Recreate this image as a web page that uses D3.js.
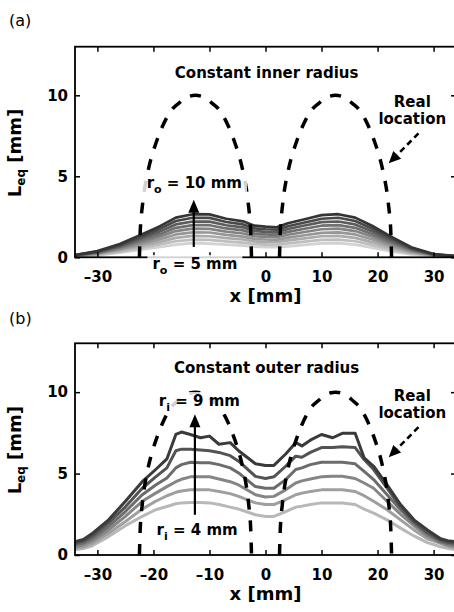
<!DOCTYPE html>
<html>
<head>
<meta charset="utf-8">
<script src="https://cdn.jsdelivr.net/npm/d3@7"></script>
<style>
  body { margin: 0; background: #fff; }
  svg { display: block; font-family: "DejaVu Sans", sans-serif; }
</style>
</head>
<body>
<div id="chart"></div>
<script>
// 1: DATA
const xTicks = [-30, -20, -10, 0, 10, 20, 30];
const xTickLabelsA = [-30, 0, 10, 20, 30];   // -20 / -10 hidden behind the r_o label in (a)
const xTickLabelsB = [-30, -20, -10, 0, 10, 20, 30];
const yTicks = [0, 5, 10];

// panel (a): constant inner radius, r_o = 5 ... 10 mm (lightest to darkest)
const panelA_x = [-34, -30, -26, -22, -19, -16, -13, -10, -7, -4, -2, 0, 2, 4, 7, 10, 13, 16, 19, 22, 26, 30, 34];
const panelA_values = [
  [0.05, 0.12, 0.28, 0.48, 0.62, 0.78, 0.87, 0.85, 0.78, 0.72, 0.65, 0.62, 0.62, 0.68, 0.77, 0.86, 0.87, 0.78, 0.60, 0.40, 0.18, 0.07, 0.03],
  [0.06, 0.15, 0.35, 0.60, 0.78, 0.99, 1.09, 1.08, 0.98, 0.91, 0.81, 0.78, 0.77, 0.86, 0.97, 1.08, 1.09, 0.99, 0.77, 0.52, 0.24, 0.09, 0.04],
  [0.07, 0.19, 0.42, 0.72, 0.94, 1.20, 1.32, 1.30, 1.18, 1.10, 0.98, 0.94, 0.93, 1.04, 1.17, 1.30, 1.32, 1.20, 0.94, 0.64, 0.29, 0.10, 0.04],
  [0.08, 0.22, 0.48, 0.83, 1.10, 1.41, 1.54, 1.53, 1.38, 1.28, 1.14, 1.10, 1.08, 1.21, 1.36, 1.51, 1.54, 1.41, 1.11, 0.76, 0.35, 0.12, 0.05],
  [0.10, 0.25, 0.55, 0.95, 1.26, 1.62, 1.77, 1.75, 1.58, 1.47, 1.30, 1.26, 1.24, 1.39, 1.56, 1.73, 1.77, 1.62, 1.28, 0.88, 0.40, 0.14, 0.05],
  [0.11, 0.28, 0.62, 1.07, 1.41, 1.82, 1.99, 1.98, 1.78, 1.66, 1.46, 1.41, 1.39, 1.57, 1.76, 1.95, 1.99, 1.82, 1.44, 0.99, 0.46, 0.15, 0.06],
  [0.12, 0.32, 0.69, 1.19, 1.57, 2.03, 2.21, 2.20, 1.98, 1.85, 1.63, 1.57, 1.54, 1.75, 1.96, 2.17, 2.21, 2.03, 1.61, 1.11, 0.51, 0.17, 0.06],
  [0.13, 0.35, 0.75, 1.30, 1.73, 2.24, 2.44, 2.43, 2.18, 2.03, 1.79, 1.73, 1.70, 1.92, 2.15, 2.38, 2.44, 2.24, 1.78, 1.23, 0.57, 0.18, 0.07],
  [0.14, 0.38, 0.82, 1.42, 1.89, 2.45, 2.66, 2.65, 2.38, 2.22, 1.95, 1.89, 1.85, 2.10, 2.35, 2.60, 2.66, 2.45, 1.95, 1.35, 0.62, 0.20, 0.07]
];

// panel (b): constant outer radius, r_i = 4 ... 9 mm
const panelB_x = [-34, -32.5, -31, -28, -25, -22, -19.6, -17.6, -16, -15, -13.4, -11.6, -10, -8.3, -6.3, -4.8, -1.8, 0, 1.5, 3.6,
                  5.4, 6.5, 8, 10, 12, 13.7, 16, 17.6, 19.3, 21.7, 24.1, 26.5, 28.9, 31.25, 32.5, 34];
const panelB_values = [
  [0.32, 0.40, 0.55, 1.13, 1.80, 2.37, 2.78, 2.98, 3.15, 3.20, 3.23, 3.22, 3.20, 3.10, 2.94, 2.82, 2.47, 2.37, 2.37, 2.67, 2.94, 3.00, 3.10, 3.20, 3.20, 3.20, 3.10, 2.82, 2.57, 2.16, 1.65, 1.17, 0.76, 0.51, 0.42, 0.32],
  [0.42, 0.50, 0.70, 1.34, 2.06, 2.82, 3.30, 3.64, 3.85, 3.93, 4.00, 4.00, 4.00, 3.90, 3.77, 3.60, 3.20, 3.10, 3.10, 3.40, 3.70, 3.80, 3.90, 4.00, 4.00, 4.00, 3.90, 3.64, 3.30, 2.78, 2.16, 1.54, 1.00, 0.72, 0.55, 0.42],
  [0.52, 0.62, 0.85, 1.54, 2.37, 3.30, 3.80, 4.20, 4.50, 4.65, 4.80, 4.80, 4.80, 4.67, 4.50, 4.30, 3.70, 3.56, 3.60, 4.00, 4.42, 4.55, 4.67, 4.80, 4.83, 4.83, 4.70, 4.42, 4.10, 3.30, 2.50, 1.80, 1.17, 0.78, 0.62, 0.52],
  [0.62, 0.75, 1.00, 1.75, 2.67, 3.70, 4.30, 4.73, 5.35, 5.55, 5.70, 5.66, 5.66, 5.55, 5.35, 5.04, 4.20, 4.10, 4.10, 4.63, 5.25, 5.35, 5.55, 5.70, 5.70, 5.70, 5.60, 5.14, 4.63, 3.70, 2.78, 1.96, 1.30, 0.82, 0.70, 0.62],
  [0.72, 0.85, 1.15, 1.97, 2.96, 4.10, 4.80, 5.35, 6.40, 6.50, 6.50, 6.45, 6.40, 6.30, 6.10, 5.76, 4.83, 4.70, 4.80, 5.45, 6.07, 6.00, 6.30, 6.60, 6.60, 6.65, 6.60, 5.86, 5.25, 4.10, 2.94, 2.06, 1.38, 0.93, 0.78, 0.72],
  [0.82, 0.95, 1.30, 2.16, 3.30, 4.50, 5.25, 5.90, 7.40, 7.55, 7.40, 7.20, 7.30, 6.80, 6.90, 6.40, 5.60, 5.50, 5.50, 6.20, 6.90, 6.70, 7.05, 7.40, 7.20, 7.47, 7.47, 5.97, 5.45, 4.30, 3.10, 2.16, 1.54, 1.00, 0.88, 0.82]
];

// "real location": two half circles of radius 10 mm
const arcCenters = [-12.5, 12.5];
const arcDx = [-10, -9.8, -9.5, -9, -8, -7, -6, -5, -4, -3, -2, -1, 0, 1, 2, 3, 4, 5, 6, 7, 8, 9, 9.5, 9.8, 10];
const arcH  = [0, 2.0, 3.1, 4.4, 6.0, 7.1, 8.0, 8.7, 9.2, 9.5, 9.8, 9.95, 10, 9.95, 9.8, 9.5, 9.2, 8.7, 8.0, 7.1, 6.0, 4.4, 3.1, 2.0, 0];

// 2: SVG
const W = 454, H = 612;
const svg = d3.select("#chart").append("svg")
    .attr("width", W)
    .attr("height", H);

const fmtTick = d => d < 0 ? "\u2013" + Math.abs(d) : String(d);

function subText(sel, main, sub, rest, size, subSize, shift) {
    sel.append("tspan").text(main);
    sel.append("tspan").attr("font-size", subSize).attr("dy", shift).text(sub);
    sel.append("tspan").attr("dy", -shift).text(rest);
}

function drawPanel(p) {
    const x = d3.scaleLinear().domain([-34, 34]).range([75, 456]);
    const y = d3.scaleLinear().domain([0, 13]).range([p.bottom, p.top]);
    const g = svg.append("g");

    // panel letter
    svg.append("text")
        .attr("x", 9).attr("y", p.tagY)
        .attr("font-size", 16)
        .text(p.tag);

    // curves
    const color = d3.scaleLinear()
        .domain([0, p.values.length - 1])
        .range([p.light, p.dark]);
    const line = d3.line()
        .x(d => x(d[0]))
        .y(d => y(d[1]));
    g.selectAll(".curve")
        .data(p.values)
        .enter()
        .append("path")
        .attr("class", "curve")
        .attr("fill", "none")
        .attr("stroke", (d, i) => color(i))
        .attr("stroke-width", p.lineW)
        .attr("stroke-linejoin", "round")
        .attr("d", vals => line(vals.map((v, i) => [p.xs[i], v])));

    // dashed half circles
    const arcLine = d3.line()
        .x(d => x(d[0]))
        .y(d => y(d[1]))
        .curve(d3.curveCatmullRom);
    g.selectAll(".arc")
        .data(arcCenters)
        .enter()
        .append("path")
        .attr("fill", "none")
        .attr("stroke", "#000")
        .attr("stroke-width", 3.5)
        .attr("stroke-dasharray", "11,11")
        .attr("d", c => arcLine(arcDx.map((d, i) => [c + d, arcH[i]])));

    // axes (ticks inward)
    const axFont = a => a.attr("font-family", "DejaVu Sans, sans-serif")
        .attr("font-size", 15).attr("font-weight", "bold");
    g.append("g")
        .attr("transform", `translate(0,${p.bottom})`)
        .call(d3.axisBottom(x).tickValues(xTicks).tickSize(-5).tickSizeOuter(0).tickPadding(14)
            .tickFormat(d => p.tickLabels.includes(d) ? fmtTick(d) : ""))
        .call(axFont)
        .call(a => a.select(".domain").remove());
    g.append("g")
        .attr("transform", `translate(0,${p.top})`)
        .call(d3.axisTop(x).tickValues(xTicks).tickSize(-5).tickSizeOuter(0).tickFormat(""))
        .call(a => a.select(".domain").remove());
    g.append("g")
        .attr("transform", `translate(75,0)`)
        .call(d3.axisLeft(y).tickValues(yTicks).tickSize(-5).tickSizeOuter(0).tickPadding(7))
        .call(axFont)
        .call(a => a.select(".domain").remove());
    g.append("g")
        .attr("transform", `translate(456,0)`)
        .call(d3.axisRight(y).tickValues(yTicks).tickSize(-5).tickSizeOuter(0).tickFormat(""))
        .call(a => a.select(".domain").remove());
    g.selectAll(".tick line").attr("stroke-width", 1.5);
    g.append("rect")
        .attr("x", 75).attr("y", p.top)
        .attr("width", 456 - 75).attr("height", p.bottom - p.top)
        .attr("fill", "none").attr("stroke", "#000").attr("stroke-width", 1.8);

    // axis labels
    g.append("text")
        .attr("x", x(0)).attr("y", p.bottom + 45)
        .attr("text-anchor", "middle")
        .attr("font-size", 18).attr("font-weight", "bold")
        .text("x [mm]");
    g.append("text")
        .attr("transform", `translate(21,${(p.top + p.bottom) / 2 + 1}) rotate(-90)`)
        .attr("text-anchor", "middle")
        .attr("font-size", 18).attr("font-weight", "bold")
        .call(t => subText(t, "L", "eq", " [mm]", 18, 12, 4));

    // title
    g.append("text")
        .attr("x", x(0.2)).attr("y", y(p.titleV))
        .attr("text-anchor", "middle")
        .attr("font-size", 15).attr("font-weight", "bold")
        .text(p.title);

    // "Real location" with dashed arrow
    g.append("text")
        .attr("x", x(26.2)).attr("y", y(p.realV))
        .attr("text-anchor", "middle")
        .attr("font-size", 15).attr("font-weight", "bold")
        .call(t => {
            t.append("tspan").attr("x", x(26.2)).text("Real");
            t.append("tspan").attr("x", x(26.2)).attr("dy", 17).text("location");
        });
    const s = [x(p.realArrow[0]), y(p.realArrow[1])];
    const e = [x(p.realArrow[2]), y(p.realArrow[3])];
    const len = Math.hypot(e[0] - s[0], e[1] - s[1]);
    const u = [(e[0] - s[0]) / len, (e[1] - s[1]) / len];
    const b = [e[0] - u[0] * 12, e[1] - u[1] * 12];
    g.append("line")
        .attr("x1", s[0]).attr("y1", s[1]).attr("x2", b[0]).attr("y2", b[1])
        .attr("stroke", "#000").attr("stroke-width", 2.6)
        .attr("stroke-dasharray", "6,4");
    g.append("path")
        .attr("d", `M${e[0]},${e[1]}L${b[0] - u[1] * 5.5},${b[1] + u[0] * 5.5}L${b[0] + u[1] * 5.5},${b[1] - u[0] * 5.5}Z`)
        .attr("fill", "#000");

    // radius labels with translucent white boxes
    [p.topLab, p.botLab].forEach(lab => {
        const lg = g.append("g");
        const t = lg.append("text")
            .attr("x", x(lab.x)).attr("y", y(lab.v))
            .attr("text-anchor", "middle")
            .attr("font-size", 15).attr("font-weight", "bold")
            .call(t => subText(t, lab.main, lab.sub, lab.rest, 15, 11, 5));
        const bb = t.node().getBBox();
        lg.insert("rect", "text")
            .attr("x", bb.x - 5).attr("y", bb.y)
            .attr("width", bb.width + 10).attr("height", bb.height)
            .attr("fill", "#fff").attr("fill-opacity", 0.82);
    });

    // vertical arrow
    const ax = x(p.upArrow[0]);
    const y0 = y(p.upArrow[1]), y1 = y(p.upArrow[2]);
    g.append("line")
        .attr("x1", ax).attr("x2", ax).attr("y1", y0).attr("y2", y1 + 10)
        .attr("stroke", "#000").attr("stroke-width", 2.2);
    g.append("path")
        .attr("d", `M${ax},${y1}L${ax - 5.5},${y1 + 13}L${ax + 5.5},${y1 + 13}Z`)
        .attr("fill", "#000");
}

drawPanel({
    tag: "(a)", tagY: 26, top: 46.7, bottom: 257.3,
    xs: panelA_x, values: panelA_values,
    light: "#d2d2d2", dark: "#353535", lineW: 2.7,
    tickLabels: xTickLabelsA,
    title: "Constant inner radius", titleV: 11.05,
    realV: 9.3, realArrow: [27.3, 7.65, 22.0, 5.8],
    topLab: { main: "r", sub: "o", rest: " = 10 mm", x: -12.7, v: 4.25 },
    botLab: { main: "r", sub: "o", rest: " = 5 mm", x: -12.6, v: -0.72 },
    upArrow: [-12.8, 0.64, 3.55]
});

drawPanel({
    tag: "(b)", tagY: 324, top: 343.3, bottom: 555,
    xs: panelB_x, values: panelB_values,
    light: "#b8b8b8", dark: "#3a3a3a", lineW: 3,
    tickLabels: xTickLabelsB,
    title: "Constant outer radius", titleV: 11.15,
    realV: 9.47, realArrow: [27.3, 7.85, 22.0, 6.0],
    topLab: { main: "r", sub: "i", rest: " = 9 mm", x: -11.8, v: 9.15 },
    botLab: { main: "r", sub: "i", rest: " = 4 mm", x: -12.2, v: 1.25 },
    upArrow: [-12.6, 2.47, 8.65]
});
</script>
</body>
</html>
